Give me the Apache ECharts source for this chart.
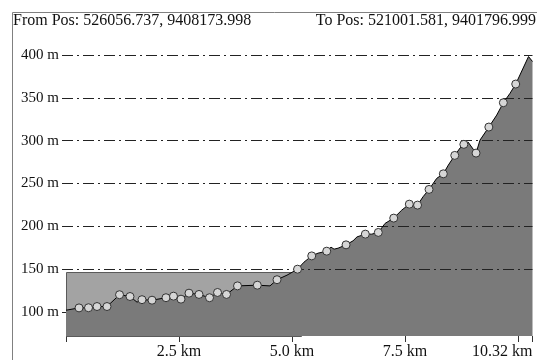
<!DOCTYPE html>
<html><head><meta charset="utf-8">
<script src="https://cdn.jsdelivr.net/npm/echarts@6/dist/echarts.min.js"></script>
<style>html,body{margin:0;padding:0;background:#fff}#c{width:537px;height:360px}</style>
</head><body><div id="c"></div>
<script>
const fromLabel = 'From Pos: 526056.737, 9408173.998';
const toLabel = 'To Pos: 521001.581, 9401796.999';

// elevation profile (distance km, elevation m)
const profileKm = [0, 0.288, 0.498, 0.686, 0.907, 1.184, 1.416, 1.571, 1.681, 1.903, 2.212, 2.378, 2.544, 2.721, 2.942, 3.175, 3.352, 3.551, 3.794, 4.232, 4.513, 4.668, 4.889, 5.122, 5.265, 5.436, 5.575, 5.768, 5.863, 5.93, 6.018, 6.195, 6.35, 6.438, 6.622, 6.764, 6.909, 7.058, 7.25, 7.427, 7.595, 7.777, 7.898, 8.031, 8.201, 8.347, 8.458, 8.6, 8.717, 8.801, 8.894, 9.071, 9.159, 9.354, 9.529, 9.675, 9.823, 9.949, 10.232, 10.32];
const profileElev = [102.1, 104.8, 105.0, 106.4, 106.4, 120.2, 118.1, 111.5, 114.4, 113.8, 116.7, 118.5, 115.0, 122.0, 120.5, 116.7, 122.8, 120.5, 130.5, 131.3, 130.5, 137.7, 143.0, 150.0, 158.2, 165.5, 168.7, 171.0, 175.7, 173.4, 174.5, 178.4, 183.1, 187.7, 190.9, 190.9, 192.9, 203.4, 209.6, 218.9, 225.9, 224.8, 234.5, 243.1, 256.0, 261.3, 271.5, 282.8, 291.4, 295.7, 298.4, 285.5, 300.7, 315.9, 329.9, 344.3, 355.3, 366.1, 398.2, 392.4];

// sampled points drawn as circles
const markerKm = [0.288, 0.498, 0.686, 0.907, 1.184, 1.416, 1.681, 1.903, 2.212, 2.378, 2.544, 2.721, 2.942, 3.175, 3.352, 3.551, 3.794, 4.232, 4.668, 5.122, 5.436, 5.768, 6.195, 6.622, 6.909, 7.25, 7.595, 7.777, 8.031, 8.347, 8.6, 8.801, 9.071, 9.354, 9.675, 9.949];
const markerElev = [104.8, 105.0, 106.4, 106.4, 120.2, 118.1, 114.4, 113.8, 116.7, 118.5, 115.0, 122.0, 120.5, 116.7, 122.8, 120.5, 130.5, 131.3, 137.7, 150.0, 165.5, 171.0, 178.4, 190.9, 192.9, 209.6, 225.9, 224.8, 243.1, 261.3, 282.8, 295.7, 285.5, 315.9, 344.3, 366.1];

// light reference block
const blockKm = [0, 5.19];
const blockElev = 146.5;

const xTickValues = [2.5, 5, 7.5, 10.32];
const xTickLabels = ['2.5 km', '5.0 km', '7.5 km', '10.32 km'];
const yTickValues = [100, 150, 200, 250, 300, 350, 400];
const yTickLabels = ['100 m', '150 m', '200 m', '250 m', '300 m', '350 m', '400 m'];
const xMax = 10.32, xStep = 2.5, yMin = 72, yMax = 400;

const FONT = '"Liberation Serif", "Times New Roman", serif';
function lookup(vals, labels, v) {
  for (let i = 0; i < vals.length; i++) if (Math.abs(vals[i] - v) < 1e-6) return labels[i];
  return '';
}

const chart = echarts.init(document.getElementById('c'), null, {renderer: 'canvas'});
chart.setOption({
  animation: false,
  backgroundColor: '#fff',
  grid: {left: 66, right: 4.5, top: 55, bottom: 24, containLabel: false},
  xAxis: {
    type: 'value', min: 0, max: xMax, interval: xStep,
    axisLine: {show: false},
    axisTick: {show: true, length: 6, lineStyle: {color: '#333', width: 1}},
    axisLabel: {
      show: true, margin: 8, color: '#111', fontFamily: FONT, fontSize: 16,
      showMaxLabel: true, showMinLabel: true, alignMaxLabel: 'right', hideOverlap: false,
      formatter: v => lookup(xTickValues, xTickLabels, v)
    },
    splitLine: {show: false}
  },
  yAxis: {
    type: 'value', min: yMin, max: yMax, z: 3,
    axisLine: {show: false},
    axisTick: {show: true, length: 4, customValues: yTickValues, lineStyle: {color: '#222', width: 1}},
    axisLabel: {
      show: true, margin: 7, color: '#111', fontFamily: FONT, fontSize: 15,
      customValues: yTickValues,
      formatter: v => lookup(yTickValues, yTickLabels, v)
    },
    splitLine: {show: true, showMinLine: false, lineStyle: {color: '#222', width: 1, type: [11, 4, 2, 4], dashOffset: 4}}
  },
  graphic: [
    {type: 'line', shape: {x1: 12.5, y1: 12.5, x2: 537, y2: 12.5}, style: {stroke: '#808080', lineWidth: 1}, silent: true},
    {type: 'line', shape: {x1: 12.5, y1: 12.5, x2: 12.5, y2: 360}, style: {stroke: '#808080', lineWidth: 1}, silent: true},
    {type: 'text', left: 13, top: 13, style: {text: fromLabel, font: '16px ' + FONT, fill: '#111'}, silent: true},
    {type: 'text', right: 1, top: 13, style: {text: toLabel, font: '16px ' + FONT, fill: '#111'}, silent: true}
  ],
  series: [
    {
      type: 'custom', z: 1, silent: true,
      data: [[blockKm[0], blockKm[1], blockElev]],
      renderItem: function (params, api) {
        const p0 = api.coord([api.value(0), yMin]);
        const p1 = api.coord([api.value(1), api.value(2)]);
        return {
          type: 'rect',
          shape: {x: Math.round(p0[0]) + 0.5, y: Math.round(p1[1]) + 0.5, width: Math.round(p1[0] - p0[0]), height: Math.round(p0[1] - p1[1])},
          style: {fill: '#a3a3a3', stroke: '#5a5a5a', lineWidth: 1}
        };
      }
    },
    {
      type: 'line', z: 2, silent: true, showSymbol: false,
      data: profileKm.map((k, i) => [k, profileElev[i]]),
      lineStyle: {width: 0},
      areaStyle: {color: '#7a7a7a', opacity: 1, origin: 'start'}
    },
    {
      type: 'line', z: 4, silent: true, showSymbol: false,
      data: profileKm.map((k, i) => [k, profileElev[i]]),
      lineStyle: {color: '#000', width: 1}
    },
    {
      type: 'scatter', z: 5, silent: true,
      symbol: 'circle', symbolSize: 8,
      data: markerKm.map((k, i) => [k, markerElev[i]]),
      itemStyle: {color: '#d6d6d6', borderColor: '#333', borderWidth: 1, opacity: 1}
    }
  ]
});
</script>
</body></html>
